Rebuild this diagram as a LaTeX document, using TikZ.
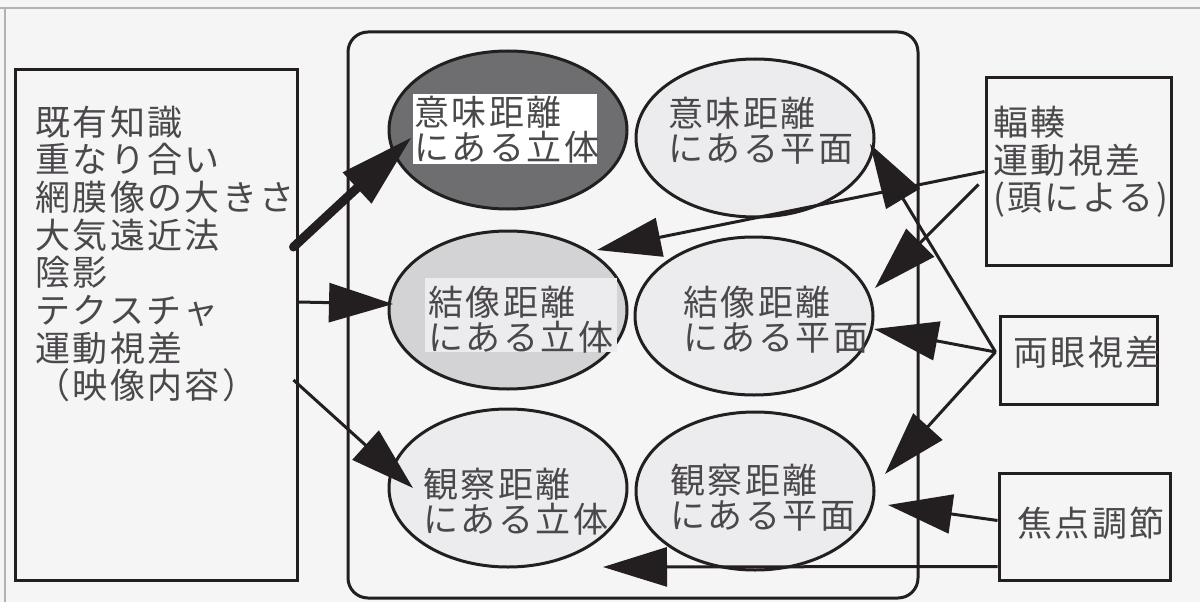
\documentclass[tikz,border=0pt]{standalone}
\usepackage{fontspec}
\usetikzlibrary{shapes.geometric,arrows.meta,calc}
\newfontfamily\jp[LetterSpace=7]{Noto Sans CJK JP}
\definecolor{ink}{HTML}{231F20}
\definecolor{txt}{HTML}{4A484A}
\definecolor{bg}{HTML}{F6F5F6}
\definecolor{darkfill}{HTML}{6E6D6F}
\definecolor{midfill}{HTML}{D3D2D4}
\definecolor{palefill}{HTML}{ECEBED}
\begin{document}
\begin{tikzpicture}[x=1pt,y=-1pt,
  box/.style={draw=ink,line width=3pt,inner sep=0pt},
  ell/.style={ellipse,draw=ink,line width=3pt,inner sep=0pt,minimum width=238pt,minimum height=158pt},
  lbl/.style={font=\jp\fontsize{35}{35}\selectfont,text=txt,align=left,inner sep=0pt,anchor=west},
  conn/.style={draw=ink,line width=3pt,-{Triangle[length=64pt,width=39pt]}},
]
\fill[bg] (0,0) rectangle (1200,602);
\useasboundingbox (0,0) rectangle (1200,602);
\draw[gray!60,line width=1.2pt] (0,8) -- (1200,8);
\draw[gray!60,line width=1.2pt] (5,8) -- (5,602);

% boxes
\node[box,minimum width=282pt,minimum height=510pt] (cues) at (156,325) {};
\node[box,rounded corners=20pt,minimum width=570pt,minimum height=566pt] (space) at (633,315) {};
\node[box,minimum width=185pt,minimum height=187pt] (r1) at (1078.5,171.5) {};
\node[box,minimum width=157pt,minimum height=88pt] (r2) at (1078.5,360) {};
\node[box,minimum width=171pt,minimum height=107pt] (r3) at (1084.5,526.5) {};

% ellipses
\node[ell,fill=darkfill] (e1) at (508,130) {};
\node[ell,fill=palefill] (e2) at (755,138) {};
\node[ell,fill=midfill] (e3) at (508,310) {};
\node[ell,fill=palefill] (e4) at (754,316) {};
\node[ell,fill=palefill] (e5) at (508,488) {};
\node[ell,fill=palefill] (e6) at (755,491) {};

\fill[white] (413,94) rectangle (597,164);
\fill[palefill] (425,278) rectangle (617,352);

% ellipse texts
\node[lbl] (t1) at (414,129.5) {意味距離\\にある立体};
\node[lbl] (t2) at (668,131) {意味距離\\にある平面};
\node[lbl] (t3) at (428,320) {結像距離\\にある立体};
\node[lbl] (t4) at (683,320) {結像距離\\にある平面};
\node[lbl] (t5) at (423,502) {観察距離\\にある立体};
\node[lbl] (t6) at (670,498) {観察距離\\にある平面};

% box texts
\node[lbl,font=\jp\fontsize{35}{37.7}\selectfont] (tc) at (35,254) {既有知識\\重なり合い\\網膜像の大きさ\\大気遠近法\\陰影\\テクスチャ\\運動視差\\（映像内容）};
\node[lbl,font=\jp\fontsize{35}{37.5}\selectfont] (tr1) at (993,162) {輻輳\\運動視差\\(頭による)};
\node[lbl] (tr2) at (1013,352) {両眼視差};
\node[lbl] (tr3) at (1017,523) {焦点調節};

% connectors
\draw[conn,line width=9pt,line cap=round,-{Triangle[length=75pt,width=40pt]}] ($(cues.east)+(-5,-78)$) -- ($(e1.center)+(-96,7)$);
\draw[conn] ($(cues.east)+(0,-23)$) -- ($(e3.center)+(-115,-6)$);
\draw[conn] ($(cues.east)+(-5,55)$) -- ($(e5.center)+(-95,0)$);
\draw[conn] (r1.west) -- ($(e3.center)+(89,-60)$);
\draw[conn] ($(r1.west)+(-6,13)$) -- ($(e4.center)+(121,-28)$);
\draw[conn] ($(r2.west)+(-3,-8)$) -- ($(e2.center)+(115,6)$);
\draw[conn] ($(r2.west)+(-3,-8)$) -- ($(e4.center)+(120,13)$);
\draw[conn] ($(r2.west)+(-3,-8)$) -- ($(e6.center)+(130,-17)$);
\draw[conn] ($(r3.west)+(0,-6)$) -- ($(e6.center)+(133,14)$);
\draw[conn] ($(r3.west)+(0,40)$) -- ($(e5.center)+(95,79)$);
\end{tikzpicture}
\end{document}
